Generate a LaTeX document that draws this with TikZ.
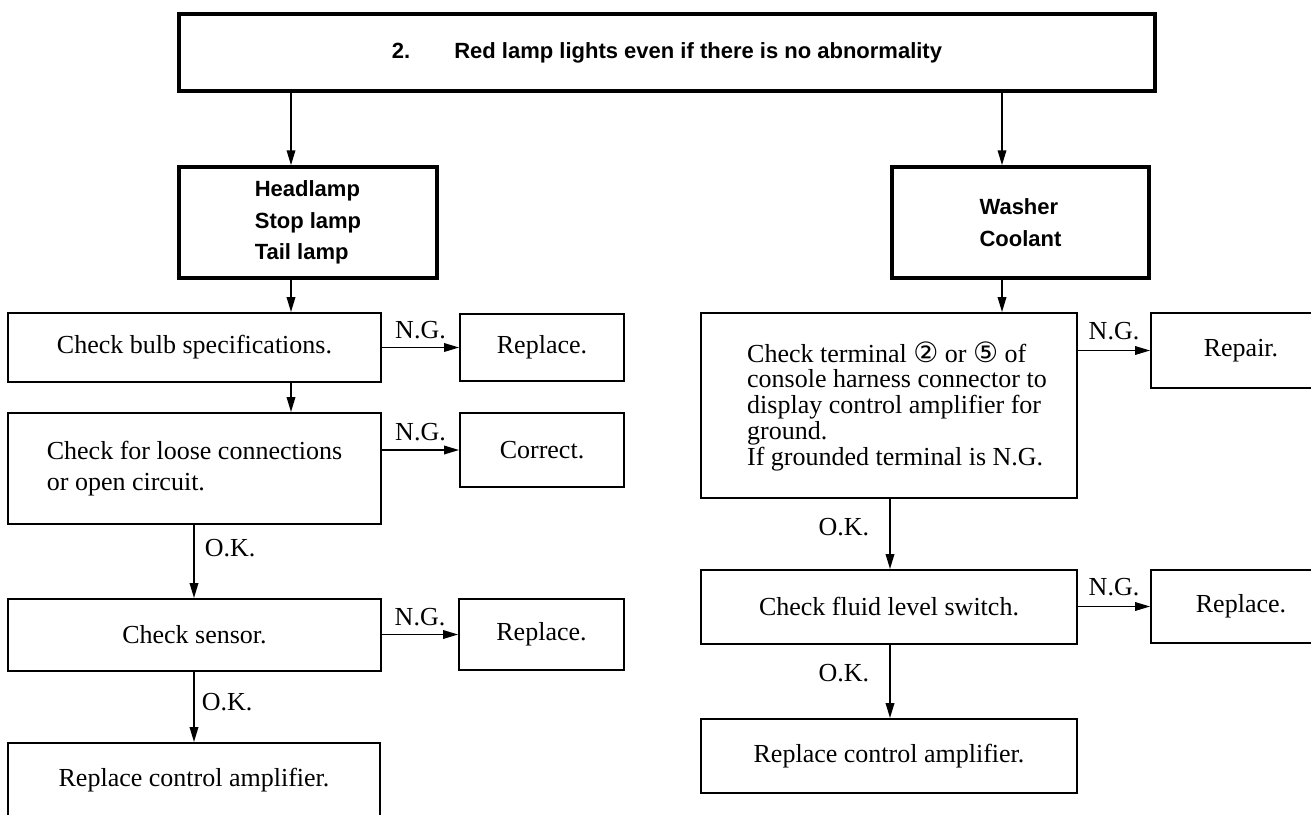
\documentclass[tikz,border=0pt]{standalone}
\usepackage{fontspec}
\setmainfont{Liberation Serif}
\newfontfamily\hsans{Liberation Sans}
\newfontfamily\circfont{DejaVu Sans}
\usetikzlibrary{arrows.meta}
\newcommand{\circd}[1]{{\circfont\fontsize{28}{25.75}\selectfont #1}}
\begin{document}
\begin{tikzpicture}[x=1pt,y=-1pt,
  box/.style={draw, line width=1.8pt, rectangle, inner sep=0pt, font=\fontsize{26}{31}\selectfont},
  hbox/.style={draw, line width=3.5pt, rectangle, inner sep=0pt, align=left,
    font=\hsans\bfseries\fontsize{22}{31.5}\selectfont},
  arr/.style={line width=1.8pt, -{Triangle[length=15pt,width=8.5pt]}},
  lab/.style={font=\fontsize{26}{25.75}\selectfont, inner sep=0pt}]
\path[fill=white, use as bounding box] (0,0) rectangle (1311,814);

% top
\node[hbox, minimum width=976, minimum height=77] (top) at (667,52.5)
  {2.\hspace{44pt}Red lamp lights even if there is no abnormality};
\node[hbox, minimum width=258, minimum height=111] (head) at (308,222.5)
  {Headlamp\\Stop lamp\\Tail lamp};
\node[hbox, minimum width=257, minimum height=111] (wash) at (1020.5,222.5)
  {Washer\\Coolant};

% left column
\node[box, minimum width=373, minimum height=69] (bulb) at (194.5,347.5) {Check bulb specifications.};
\node[box, minimum width=164, minimum height=67] (rep1) at (542,347.5) {Replace.};
\node[box, minimum width=373, minimum height=111, align=left] (loose) at (194.5,468.5)
  {Check for loose connections\\or open circuit.};
\node[box, minimum width=164, minimum height=74] (corr) at (542,450) {Correct.};
\node[box, minimum width=373, minimum height=72] (sens) at (194.5,635) {Check sensor.};
\node[box, minimum width=165, minimum height=71] (rep2) at (541.5,634.5) {Replace.};
\node[box, minimum width=372, minimum height=74] (amp1) at (194,780) {Replace control amplifier.};

% right column
\node[box, minimum width=376, minimum height=185] (term) at (889,405.5) {};
\node[lab, align=left, anchor=center] (termtxt) at (897,406)
  {Check terminal \circd{②} or \circd{⑤} of\\
   console harness connector to\\
   display control amplifier for\\
   ground.\\
   If grounded terminal is N.G.};
\node[box, minimum width=180, minimum height=75] (repair) at (1241,350.5) {Repair.};
\node[box, minimum width=376, minimum height=74] (fluid) at (889,607) {Check fluid level switch.};
\node[box, minimum width=180, minimum height=73] (rep3) at (1241,606.5) {Replace.};
\node[box, minimum width=376, minimum height=74] (amp2) at (889,756) {Replace control amplifier.};

% arrow columns
\coordinate (xl) at (291,0);
\coordinate (xr) at (1002,0);
\coordinate (xo) at (194,0);
\coordinate (xor) at (890,0);

\draw[arr] (xl |- top.south) -- (xl |- head.north);
\draw[arr] (xr |- top.south) -- (xr |- wash.north);
\draw[arr] (xl |- head.south) -- (xl |- bulb.north);
\draw[arr] (xl |- bulb.south) -- (xl |- loose.north);
\draw[arr] (xr |- wash.south) -- (xr |- term.north);

\draw[arr] (xo |- loose.south) -- (xo |- sens.north)
  node[lab, pos=0.31, anchor=west, xshift=10pt] (ok1) {O.K.};
\draw[arr] (xo |- sens.south) -- (xo |- amp1.north)
  node[lab, pos=0.43, anchor=west, xshift=7pt] (ok2) {O.K.};
\draw[arr] (xor |- term.south) -- (xor |- fluid.north)
  node[lab, pos=0.40, anchor=east, xshift=-20pt] (ok3) {O.K.};
\draw[arr] (xor |- fluid.south) -- (xor |- amp2.north)
  node[lab, pos=0.39, anchor=east, xshift=-20pt] (ok4) {O.K.};

\draw[arr] (bulb.east) -- node[lab, above=8pt] (ng1) {N.G.} (rep1.west);
\draw[arr] (loose.east |- corr.west) -- node[lab, above=8pt] (ng2) {N.G.} (corr.west);
\draw[arr] (sens.east |- rep2.west) -- node[lab, above=8pt] (ng3) {N.G.} (rep2.west);
\draw[arr] (term.east |- repair.west) -- node[lab, above=10pt] (ng4) {N.G.} (repair.west);
\draw[arr] (fluid.east |- rep3.west) -- node[lab, above=10pt] (ng5) {N.G.} (rep3.west);
\end{tikzpicture}
\end{document}
